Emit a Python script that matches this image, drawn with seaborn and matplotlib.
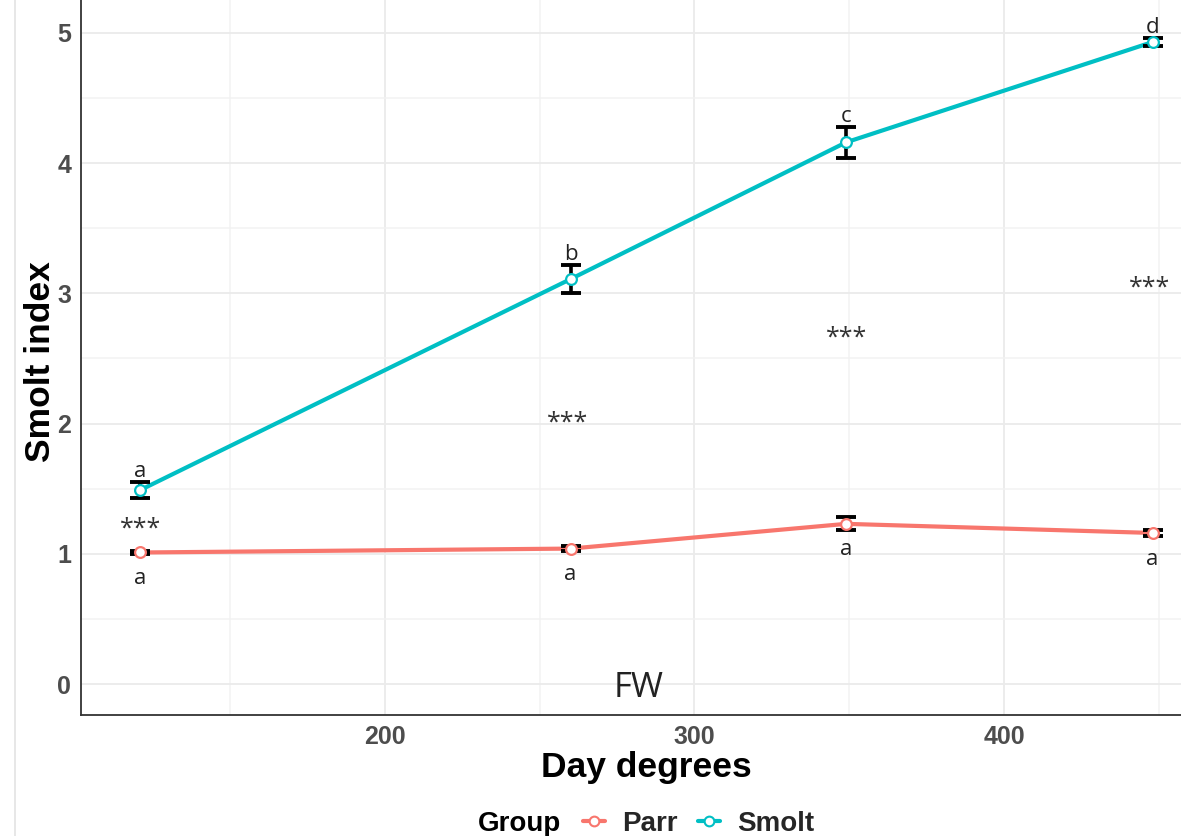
import matplotlib
matplotlib.use("Agg")
import matplotlib.pyplot as plt
from matplotlib.lines import Line2D
import seaborn as sns
import pandas as pd

# Sampling points (day degrees) and group means with standard errors
day_degrees = [121, 260, 349, 448]
parr_mean = [1.01, 1.04, 1.23, 1.16]
parr_se = [0.01, 0.02, 0.05, 0.02]
smolt_mean = [1.49, 3.11, 4.16, 4.93]
smolt_se = [0.06, 0.11, 0.12, 0.03]

# Post-hoc letters and significance marks
parr_letters = ["a", "a", "a", "a"]
smolt_letters = ["a", "b", "c", "d"]
sig_x = [121, 259, 349, 447]
sig_y = [1.19, 2.00, 2.66, 3.04]
sig_text = ["***", "***", "***", "***"]

groups = ["Parr", "Smolt"]
palette = {"Parr": "#F8766D", "Smolt": "#00BFC4"}

df = pd.DataFrame({
    "Day degrees": day_degrees * 2,
    "Smolt index": parr_mean + smolt_mean,
    "se": parr_se + smolt_se,
    "Group": ["Parr"] * 4 + ["Smolt"] * 4,
})

sns.set_theme(style="white")
plt.rcParams["font.family"] = ["Liberation Sans", "DejaVu Sans"]

fig = plt.figure(figsize=(11.81, 8.36), dpi=100)
ax = fig.add_axes([81 / 1181, 121 / 836, 1 - 81 / 1181, 1 - 121 / 836])

ax.set_xlim(101.8, 457.2)
ax.set_ylim(-0.238, 5.253)

# grid
ax.set_xticks([200, 300, 400])
ax.set_xticks([150, 250, 350, 450], minor=True)
ax.set_yticks([0, 1, 2, 3, 4, 5])
ax.set_yticks([0.5, 1.5, 2.5, 3.5, 4.5], minor=True)
ax.grid(True, which="major", color="#EBEBEB", linewidth=1.3, zorder=0)
ax.grid(True, which="minor", color="#F2F2F2", linewidth=1.1, zorder=0)
ax.set_axisbelow(True)

sns.lineplot(data=df, x="Day degrees", y="Smolt index", hue="Group",
             palette=palette, linewidth=3.0, ax=ax, legend=False,
             zorder=2, errorbar=None)

for g in groups:
    sub = df[df["Group"] == g]
    ax.errorbar(sub["Day degrees"], sub["Smolt index"], yerr=sub["se"],
                fmt="none", ecolor="black", elinewidth=2.6, capsize=7,
                capthick=2.8, zorder=3)
    ax.scatter(sub["Day degrees"], sub["Smolt index"], s=60, facecolor="white",
               edgecolor=palette[g], linewidth=1.6, zorder=4)

label_font = ["Open Sans", "DejaVu Sans"]
for x, m, s, t in zip(day_degrees, smolt_mean, smolt_se, smolt_letters):
    ax.text(x, m + s, t, ha="center", va="bottom", fontsize=16,
            color="#222222", family=label_font)
for x, m, s, t in zip(day_degrees, parr_mean, parr_se, parr_letters):
    ax.text(x, m - 0.12, t, ha="center", va="top", fontsize=16,
            color="#222222", family=label_font)
for x, y, t in zip(sig_x, sig_y, sig_text):
    ax.text(x, y, t, ha="center", va="center", fontsize=18,
            color="#333333", family=label_font)
ax.text(282, -0.03, "FW", ha="center", va="center", fontsize=25,
        color="#222222", family=label_font)

for side in ["top", "right"]:
    ax.spines[side].set_visible(False)
for side in ["left", "bottom"]:
    ax.spines[side].set_color("#333333")
    ax.spines[side].set_linewidth(1.3)

ax.tick_params(axis="both", which="major", length=4, width=1.1, color="#333333",
               labelsize=18, labelcolor="#4D4D4D", pad=3)
ax.tick_params(axis="both", which="minor", length=0)
for lbl in ax.get_xticklabels() + ax.get_yticklabels():
    lbl.set_fontweight("bold")

ax.set_xlabel("Day degrees", fontsize=25.5, fontweight="bold", color="black", labelpad=2)
ax.set_ylabel("Smolt index", fontsize=25.5, fontweight="bold", color="black", labelpad=0)
ax.xaxis.label.set_x((646 - 81) / 1100)
ax.yaxis.label.set_y((715 - 362) / 715)

# legend along the bottom
handles = [Line2D([0], [0], color=palette[g], linewidth=3, marker="o",
                  markersize=7, markerfacecolor="white",
                  markeredgecolor=palette[g], markeredgewidth=1.5) for g in groups]
leg = fig.legend(handles, groups, loc="center left", bbox_to_anchor=(583 / 1181, 12 / 836),
                 ncol=2, frameon=False, handlelength=0.8, handletextpad=0.6,
                 columnspacing=0.75, borderpad=0, borderaxespad=0,
                 prop={"weight": "bold", "size": 20})
fig.text(478 / 1181, 12 / 836, "Group", ha="left", va="center", fontsize=20,
         fontweight="bold", color="black")

# thin border line at the far left
fig.add_artist(Line2D([15 / 1181, 15 / 1181], [0, 1], color="#E3E3E3",
                      linewidth=1.2, transform=fig.transFigure))

fig.savefig("out.png", dpi=100)
